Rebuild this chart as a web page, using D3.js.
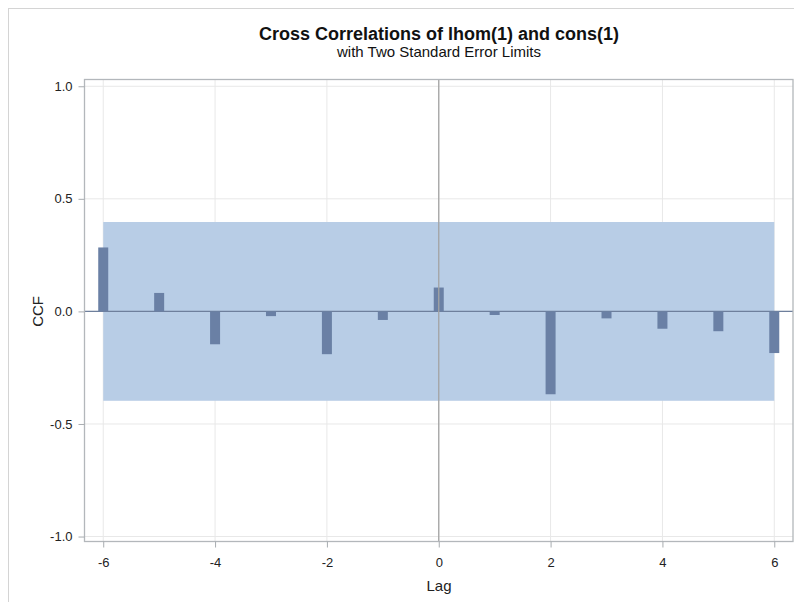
<!DOCTYPE html>
<html>
<head>
<meta charset="utf-8">
<script src="https://cdn.jsdelivr.net/npm/d3@7"></script>
<style>
  body { margin: 0; background: #fff; }
  svg { display: block; font-family: "Liberation Sans", Arial, sans-serif; }
</style>
</head>
<body>
<svg width="794" height="602"></svg>
<script>
const lags = [-6, -5, -4, -3, -2, -1, 0, 1, 2, 3, 4, 5, 6];
const ccf = [0.284, 0.082, -0.146, -0.021, -0.19, -0.038, 0.106, -0.016, -0.368, -0.031, -0.077, -0.088, -0.185];
const stdErrLimit = 0.397;
const xTicks = [-6, -4, -2, 0, 2, 4, 6];
const yTicks = [-1.0, -0.5, 0.0, 0.5, 1.0];

var svg = d3.select("svg");
var plotLeft = 84.5, plotRight = 793, plotTop = 79.5, plotBottom = 541.5;

var x = d3.scaleLinear().domain([-6.335, 6.335]).range([plotLeft, plotRight]);
var y = d3.scaleLinear().domain([-1.022, 1.03]).range([plotBottom, plotTop]);

// outer border
svg.append("rect")
    .attr("x", 8.5).attr("y", 8.5)
    .attr("width", 800).attr("height", 600)
    .attr("fill", "none").attr("stroke", "#d4d4d4");

// gridlines
svg.append("g").selectAll("line")
    .data(xTicks)
    .enter().append("line")
    .attr("x1", d => x(d)).attr("x2", d => x(d))
    .attr("y1", plotTop).attr("y2", plotBottom)
    .attr("stroke", "#e8e8e8");

svg.append("g").selectAll("line")
    .data(yTicks)
    .enter().append("line")
    .attr("x1", plotLeft).attr("x2", plotRight)
    .attr("y1", d => y(d)).attr("y2", d => y(d))
    .attr("stroke", "#e8e8e8");

// standard error band
svg.append("rect")
    .attr("x", x(-6)).attr("width", x(6) - x(-6))
    .attr("y", y(stdErrLimit)).attr("height", y(-stdErrLimit) - y(stdErrLimit))
    .attr("fill", "#b8cde6");

// zero line
svg.append("line")
    .attr("x1", plotLeft).attr("x2", plotRight)
    .attr("y1", y(0)).attr("y2", y(0))
    .attr("stroke", "#6e7f9c").attr("stroke-width", 1.3);

// bars
var barW = 10;
svg.append("g").selectAll("rect")
    .data(lags)
    .enter().append("rect")
    .attr("x", d => x(d) - barW / 2)
    .attr("width", barW)
    .attr("y", (d, i) => y(Math.max(0, ccf[i])))
    .attr("height", (d, i) => Math.abs(y(ccf[i]) - y(0)))
    .attr("fill", "#6a80a5");

// lag 0 reference line
svg.append("line")
    .attr("x1", x(0)).attr("x2", x(0))
    .attr("y1", plotTop).attr("y2", plotBottom)
    .attr("stroke", "#a3a3a3").attr("stroke-width", 1.3);

// frame
svg.append("rect")
    .attr("x", plotLeft).attr("y", plotTop)
    .attr("width", plotRight - plotLeft).attr("height", plotBottom - plotTop)
    .attr("fill", "none").attr("stroke", "#b3b7bb").attr("stroke-width", 1.3);

// axes
var xAxis = svg.append("g")
    .attr("transform", "translate(0," + plotBottom + ")")
    .call(d3.axisBottom(x).tickValues(xTicks).tickFormat(d => String(d)).tickSize(6).tickSizeOuter(0));
var yAxis = svg.append("g")
    .attr("transform", "translate(" + plotLeft + ",0)")
    .call(d3.axisLeft(y).tickValues(yTicks).tickFormat(d => d.toFixed(1)).tickSize(6).tickSizeOuter(0));

[xAxis, yAxis].forEach(function(a) {
    a.select(".domain").remove();
    a.selectAll(".tick line").attr("stroke", "#a8acb0");
    a.selectAll(".tick text")
        .attr("fill", "#222")
        .style("font-size", "13px")
        .style("font-family", "Liberation Sans, Arial, sans-serif");
});
xAxis.selectAll(".tick text").attr("y", 16);
yAxis.selectAll(".tick text").attr("x", -12);

// titles
svg.append("text")
    .attr("x", 439).attr("y", 40)
    .attr("text-anchor", "middle")
    .style("font-size", "18px").style("font-weight", "bold")
    .attr("fill", "#111")
    .text("Cross Correlations of lhom(1) and cons(1)");

svg.append("text")
    .attr("x", 439).attr("y", 57)
    .attr("text-anchor", "middle")
    .style("font-size", "15px")
    .attr("fill", "#111")
    .text("with Two Standard Error Limits");

svg.append("text")
    .attr("x", 439).attr("y", 591)
    .attr("text-anchor", "middle")
    .style("font-size", "15px")
    .attr("fill", "#222")
    .text("Lag");

svg.append("text")
    .attr("transform", "translate(43," + y(0) + ") rotate(-90)")
    .attr("text-anchor", "middle")
    .style("font-size", "15px")
    .attr("fill", "#222")
    .text("CCF");
</script>
</body>
</html>
